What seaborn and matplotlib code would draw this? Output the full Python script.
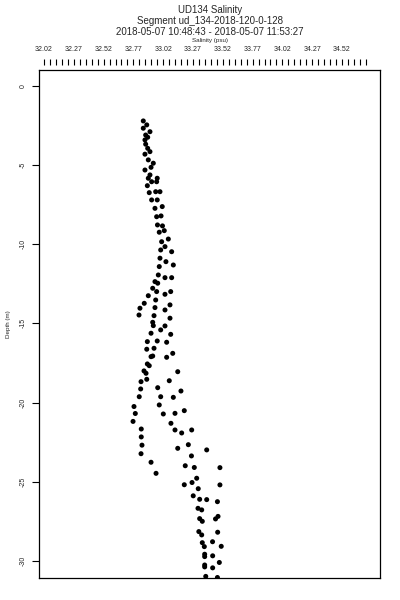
import numpy as np
import matplotlib
matplotlib.use("Agg")
import matplotlib.pyplot as plt
import seaborn as sns

# UD134 salinity profile
salinity = [
    32.853, 32.882, 32.853, 32.909, 32.873, 32.890, 32.867, 32.873, 32.890, 32.909,
    32.867, 32.895, 32.937, 32.918, 32.867, 32.909, 32.895, 32.970, 32.923, 32.965,
    32.887, 32.957, 32.903, 32.993, 32.923, 32.970, 33.012, 32.951, 33.002, 32.965,
    32.972, 33.014, 32.987, 33.029, 33.063, 33.007, 33.035, 32.999, 33.091, 32.993,
    33.043, 33.105, 32.987, 32.979, 33.035, 33.091, 32.951, 32.974, 32.932, 33.083,
    32.965, 33.035, 32.895, 32.957, 32.861, 33.077, 32.951, 32.825, 33.035, 32.817,
    32.943, 33.077, 32.932, 32.937, 33.035, 32.999, 32.918, 33.083, 32.887, 32.970,
    33.049, 32.943, 32.882, 33.100, 32.918, 32.932, 33.049, 32.887, 32.903, 32.859,
    32.876, 33.142, 32.882, 33.071, 32.834, 32.974, 32.831, 33.169, 32.819, 32.999,
    33.105, 32.987, 32.775, 33.197, 32.786, 33.021, 33.119, 32.767, 33.085, 32.836,
    33.119, 33.259, 33.175, 32.836, 33.231, 32.842, 33.142, 33.385, 32.834, 33.257,
    32.918, 33.205, 33.281, 33.496, 32.960, 33.301, 33.262, 33.197, 33.496, 33.314,
    33.272, 33.326, 33.385, 33.475, 33.312, 33.343, 33.459, 33.480, 33.326, 33.348,
    33.319, 33.343, 33.477, 33.348, 33.365, 33.434, 33.507, 33.368, 33.368, 33.435,
    33.368, 33.368, 33.435, 33.491, 33.377, 33.475, 33.413,
]
depth = [
    -2.21, -2.46, -2.67, -2.89, -3.10, -3.24, -3.41, -3.68, -3.94, -4.15,
    -4.31, -4.67, -4.88, -5.14, -5.31, -5.62, -5.83, -5.83, -6.05, -6.05,
    -6.30, -6.68, -6.74, -6.68, -7.20, -7.20, -7.62, -7.73, -8.21, -8.26,
    -8.78, -8.84, -9.24, -9.14, -9.67, -9.84, -10.15, -10.36, -10.47, -10.88,
    -11.10, -11.31, -11.41, -11.94, -12.11, -12.11, -12.36, -12.46, -12.78, -12.99,
    -12.99, -13.16, -13.25, -13.52, -13.73, -13.83, -14.00, -14.04, -14.15, -14.47,
    -14.51, -14.67, -14.93, -15.14, -15.16, -15.41, -15.62, -15.69, -16.15, -16.11,
    -16.19, -16.57, -16.63, -16.89, -17.10, -17.06, -17.14, -17.56, -17.67, -18.00,
    -18.15, -18.05, -18.53, -18.62, -18.68, -19.06, -19.14, -19.27, -19.63, -19.63,
    -19.67, -20.15, -20.25, -20.51, -20.69, -20.72, -20.68, -21.19, -21.31, -21.67,
    -21.73, -21.73, -21.92, -22.17, -22.66, -22.69, -22.89, -22.99, -23.23, -23.37,
    -23.77, -23.99, -24.10, -24.11, -24.47, -24.78, -25.05, -25.19, -25.20, -25.44,
    -25.89, -26.11, -26.13, -26.26, -26.68, -26.78, -27.35, -27.19, -27.33, -27.50,
    -28.15, -28.36, -28.19, -28.85, -29.10, -28.79, -29.08, -29.58, -29.73, -29.68,
    -30.26, -30.38, -30.44, -30.10, -30.98, -31.05, -31.27,
]

sal_ticks = [32.02, 32.27, 32.52, 32.77, 33.02, 33.27, 33.52, 33.77, 34.02, 34.27, 34.52]
depth_ticks = [0, -5, -10, -15, -20, -25, -30]

title_lines = [
    "UD134 Salinity",
    "Segment ud_134-2018-120-0-128",
    "2018-05-07 10:48:43 - 2018-05-07 11:53:27",
]

sns.set_style("ticks")
plt.rcParams["font.family"] = ["Liberation Sans", "DejaVu Sans"]

fig = plt.figure(figsize=(4, 6), dpi=100)
ax = fig.add_axes([0.0975, 0.0367, 0.8525, 0.8467])

sns.scatterplot(x=salinity, y=depth, ax=ax, color="black", marker="o",
                s=13, edgecolor="none", linewidth=0)

ax.set_xlim(31.978, 34.839)
ax.set_ylim(-31.08, 1.01)

for side in ["top", "right", "bottom", "left"]:
    ax.spines[side].set_visible(True)
    ax.spines[side].set_linewidth(0.9)
    ax.spines[side].set_color("black")

# no ticks on the box itself along x, they sit on a detached top axis
ax.set_xticks([])
ax.set_xlabel("")

ax.set_yticks(depth_ticks)
ax.set_yticklabels([str(t) for t in depth_ticks], rotation=90, va="center", fontsize=5)
ax.tick_params(axis="y", direction="out", length=5, width=0.8, pad=4, color="black")
ax.set_ylabel("Depth (m)", fontsize=4.5)
ax.yaxis.set_label_coords(-0.083, 0.5)

top = ax.secondary_xaxis(1.0 + 5 / 508)
top.spines["top"].set_visible(False)
top.set_xticks(sal_ticks)
top.set_xticklabels([f"{t:.2f}" for t in sal_ticks], fontsize=5)
top.set_xticks(np.arange(32.02, 34.73, 0.05), minor=True)
top.tick_params(which="both", direction="out", length=4.5, width=0.8, pad=4, color="black")
top.set_xlabel("Salinity (psu)", fontsize=4.5, labelpad=3)

for i, line in enumerate(title_lines):
    fig.text(0.524, 0.984 - i * 0.0183, line, ha="center", va="center", fontsize=7)

fig.savefig("out.png", dpi=100)
